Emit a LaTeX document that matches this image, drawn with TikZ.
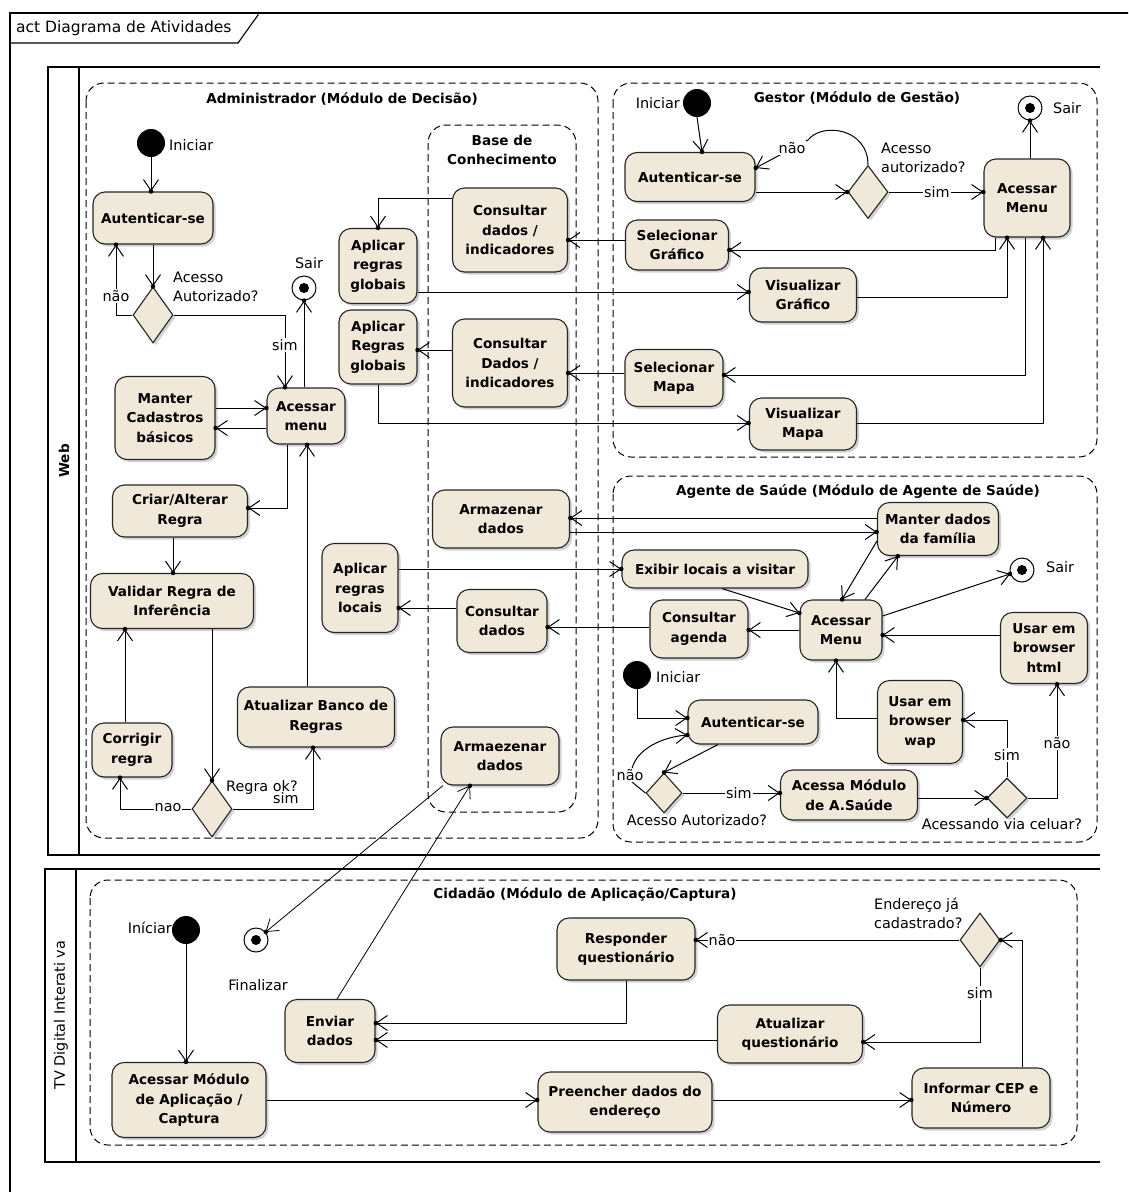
\documentclass[tikz,border=0pt]{standalone}
\usepackage{fontspec}
\setmainfont{DejaVu Sans}
\usetikzlibrary{arrows.meta,shapes.geometric,shadows,decorations.markings,calc}
\definecolor{nodefill}{HTML}{F0E8D8}
\newcommand{\actfnt}{\bfseries\fontsize{13.6}{19.5}\selectfont}
\newcommand{\lblfnt}{\fontsize{14.4}{19}\selectfont}
\newcommand{\titlefnt}{\fontsize{15.5}{19}\selectfont}
\begin{document}
\begin{tikzpicture}[x=1pt,y=-1pt,
  act/.style={draw=black!85, line width=1.1pt, rounded corners=12pt, fill=nodefill, align=center,
    font=\actfnt, inner sep=1pt, drop shadow={shadow xshift=2.5pt,shadow yshift=-2.5pt,opacity=0.35}},
  dec/.style={diamond, draw=black!85, line width=1.1pt, fill=nodefill, inner sep=0pt,
    drop shadow={shadow xshift=2.5pt,shadow yshift=-2.5pt,opacity=0.35}},
  initn/.style={circle, fill=black, minimum size=28pt, inner sep=0pt},
  finaln/.style={circle, draw, line width=1pt, fill=white, minimum size=24pt, inner sep=0pt,
    path picture={\fill[black] (path picture bounding box.center) circle (5pt);}},
  flow/.style={line width=1pt, -{Straight Barb[length=11pt,width=15pt]},
    postaction={decorate, decoration={markings, mark=at position 0.999 with {\fill[black] circle (2.3pt);}}}},
  lbl/.style={font=\lblfnt, inner sep=1pt},
  lblw/.style={lbl, fill=white},
  part/.style={draw, dash pattern=on 7pt off 4pt, line width=1pt, rounded corners=18pt},
  lane/.style={line width=1.5pt}
]
\useasboundingbox (0,0) rectangle (1128,1192);
\fill[white] (0,0) rectangle (1128,1192);
\clip (0,0) rectangle (1128,1192);

% frame
\draw[line width=1.3pt] (1140,13) -- (10,13) -- (10,1200);
\draw[line width=1.1pt] (10,43) -- (238,43) -- (258,15) -- (258,13);
\node[font=\titlefnt, anchor=west, inner sep=0pt] (title) at (16,28) {act Diagrama de Atividades};

% lanes
\draw[lane] (1100,67) -- (48,67) -- (48,855) -- (1100,855);
\draw[lane] (79,67) -- (79,855);
\node[font=\actfnt, rotate=90] (web) at (64,461) {Web};
\draw[lane] (1100,869) -- (45,869) -- (45,1162) -- (1100,1162);
\draw[lane] (76,869) -- (76,1162);
\node[font=\lblfnt, rotate=90] (tv) at (61,1015) {TV Digital Interati va};

% partitions
\draw[part] (86,83) rectangle (598,838);
\draw[part] (428,125) rectangle (576,812);
\draw[part] (613,83) rectangle (1097,457);
\draw[part] (613,476) rectangle (1097,842);
\draw[part] (90,880) rectangle (1077,1145);
\node[font=\actfnt] (tadm) at (342,99) {Administrador (Módulo de Decisão)};
\node[font=\actfnt, align=center] (tbase) at (502,150) {Base de\\Conhecimento};
\node[font=\actfnt] (tges) at (857,98) {Gestor (Módulo de Gestão)};
\node[font=\actfnt] (tage) at (858,492) {Agente de Saúde (Módulo de Agente de Saúde)};
\node[font=\actfnt] (tcid) at (585,894) {Cidadão (Módulo de Aplicação/Captura)};

% ---------- Administrador ----------
\node[initn] (i1) at (151,143) {};
\node[act, minimum width=120, minimum height=52] (a1) at (153,218) {Autenticar-se};
\node[dec, minimum width=40, minimum height=56] (d1) at (153,315) {};
\node[finaln] (s1) at (304,288) {};
\node[act, minimum width=78, minimum height=56] (m1) at (306,416) {Acessar\\menu};
\node[act, minimum width=100, minimum height=83] (mc) at (165,418) {Manter\\Cadastros\\básicos};
\node[act, minimum width=135, minimum height=52] (cr) at (180,511) {Criar/Alterar\\Regra};
\node[act, minimum width=163, minimum height=55] (vr) at (172,601) {Validar Regra de\\Inferência};
\node[dec, minimum width=40, minimum height=56] (d2) at (212,809) {};
\node[act, minimum width=80, minimum height=54] (co) at (132,750) {Corrigir\\regra};
\node[act, minimum width=157, minimum height=60] (ab) at (316,717) {Atualizar Banco de\\Regras};
\node[act, minimum width=78, minimum height=75] (g1) at (378,266) {Aplicar\\regras\\globais};
\node[act, minimum width=78, minimum height=74] (g2) at (378,347) {Aplicar\\Regras\\globais};
\node[act, minimum width=115, minimum height=84] (c1) at (510,230) {Consultar\\dados /\\indicadores};
\node[act, minimum width=115, minimum height=88] (c2) at (510,363) {Consultar\\Dados /\\indicadores};
\node[act, minimum width=137, minimum height=58] (ad) at (501,519) {Armazenar\\dados};
\node[act, minimum width=76, minimum height=89] (arl) at (360,588) {Aplicar\\regras\\locais};
\node[act, minimum width=90, minimum height=63] (cd) at (502,621) {Consultar\\dados};
\node[act, minimum width=118, minimum height=58] (az) at (500,756) {Armaezenar\\dados};

% ---------- Gestor ----------
\node[initn] (i2) at (697,103) {};
\node[act, minimum width=130, minimum height=49] (a2) at (690,177) {Autenticar-se};
\node[dec, minimum width=40, minimum height=53] (d3) at (868,192) {};
\node[act, minimum width=86, minimum height=78] (m2) at (1027,198) {Acessar\\Menu};
\node[finaln] (s2) at (1030,108) {};
\node[act, minimum width=103, minimum height=50] (sg) at (677,245) {Selecionar\\Gráfico};
\node[act, minimum width=107, minimum height=54] (vg) at (803,295) {Visualizar\\Gráfico};
\node[act, minimum width=98, minimum height=57] (sm) at (674,378) {Selecionar\\Mapa};
\node[act, minimum width=107, minimum height=52] (vm) at (803,424) {Visualizar\\Mapa};

% ---------- Agente ----------
\node[act, minimum width=121, minimum height=53] (mf) at (938,529) {Manter dados\\da família};
\node[act, minimum width=186, minimum height=38] (el) at (715,569) {Exibir locais a visitar};
\node[act, minimum width=98, minimum height=58] (ca) at (699,629) {Consultar\\agenda};
\node[act, minimum width=82, minimum height=60] (m3) at (841,630) {Acessar\\Menu};
\node[finaln] (s3) at (1022,570) {};
\node[act, minimum width=87, minimum height=71] (uh) at (1044,648) {Usar em\\browser\\html};
\node[initn] (i3) at (637,675) {};
\node[act, minimum width=130, minimum height=44] (a3) at (753,722) {Autenticar-se};
\node[act, minimum width=85, minimum height=83] (uw) at (920,722) {Usar em\\browser\\wap};
\node[dec, minimum width=36, minimum height=40] (d4) at (664,793) {};
\node[act, minimum width=137, minimum height=50] (am) at (849,795) {Acessa Módulo\\de A.Saúde};
\node[dec, minimum width=40, minimum height=40] (d5) at (1007,798) {};

% ---------- Cidadão ----------
\node[initn] (i4) at (186,930) {};
\node[finaln] (fin) at (256,940) {};
\node[act, minimum width=90, minimum height=63] (ed) at (330,1031) {Enviar\\dados};
\node[act, minimum width=138, minimum height=62] (rq) at (626,949) {Responder\\questionário};
\node[dec, minimum width=40, minimum height=54] (d6) at (980,940) {};
\node[act, minimum width=145, minimum height=58] (aq) at (790,1034) {Atualizar\\questionário};
\node[act, minimum width=154, minimum height=75] (ama) at (189,1100) {Acessar Módulo\\de Aplicação /\\Captura};
\node[act, minimum width=174, minimum height=60] (pd) at (625,1102) {Preencher dados do\\endereço};
\node[act, minimum width=138, minimum height=60] (ic) at (981,1098) {Informar CEP e\\Número};

% ---------- connectors: Administrador ----------
\draw[flow] (i1.south) -- (i1.south |- a1.north);
\draw[flow] (a1.south) -- (d1.north);
\draw[flow] (d1.west) -| (a1.south -| 116,0);
\draw[flow] (d1.east) -| (m1.north -| 285,0);
\draw[flow] (m1.north -| s1) -- (s1.south);
\draw[flow] (mc.east |- 0,408) -- (m1.west |- 0,408);
\draw[flow] (m1.west |- 0,428) -- (mc.east |- 0,428);
\draw[flow] (m1.south -| 287,0) |- (cr.east |- 0,508);
\draw[flow] (cr.south -| 173,0) -- (vr.north -| 173,0);
\draw[flow] (vr.south -| d2.north) -- (d2.north);
\draw[flow] (d2.west) -| (co.south -| 120,0);
\draw[flow] (co.north -| 125,0) -- (vr.south -| 125,0);
\draw[flow] (d2.east) -| (ab.south -| 313,0);
\draw[flow] (ab.north -| 307,0) -- (m1.south -| 307,0);
\draw[flow] (c1.west |- 0,198) -| (g1.north);
\draw[flow] (g1.east |- 0,292) -- (vg.west |- 0,292);
\draw[flow] (c2.west |- 0,350) -- (g2.east |- 0,350);
\draw[flow] (g2.south) |- (vm.west |- 0,423);
\draw[flow] (sg.west |- 0,240) -- (c1.east |- 0,240);
\draw[flow] (sm.west |- 0,373) -- (c2.east |- 0,373);

% ---------- connectors: Gestor ----------
\draw[flow] (i2.south) -- (a2.north -| 702,0);
\draw[flow] (a2.east |- 0,192) -- (d3.west);
\draw[flow] (d3.north) .. controls (868,128) and (822,122) .. (808,140) -- (a2.east |- 0,168);
\draw[flow] (d3.east) -- (m2.west |- d3.east);
\draw[flow] (m2.north -| s2) -- (s2.south);
\draw[flow] (m2.south -| 995,0) |- (sg.east |- 0,250);
\draw[flow] (vg.east |- 0,297) -| (m2.south -| 1007,0);
\draw[flow] (m2.south -| 1025,0) |- (sm.east |- 0,375);
\draw[flow] (vm.east |- 0,423) -| (m2.south -| 1043,0);

% ---------- connectors: Agente ----------
\draw[flow] (mf.west |- 0,518) -- (ad.east |- 0,518);
\draw[flow] (ad.east |- 0,532) -- (mf.west |- 0,532);
\draw[flow] (arl.east |- el.west) -- (el.west);
\draw[flow] (cd.west |- 0,608) -- (arl.east |- 0,608);
\draw[flow] (ca.west |- 0,627) -- (cd.east |- 0,627);
\draw[flow] (el.south -| 722,0) -- (m3.west |- 0,613);
\draw[flow] (m3.west) -- (ca.east |- m3.west);
\draw[flow] (m3.north -| 865,0) -- (mf.south -| 898,0);
\draw[flow] (mf.west |- 0,541) -- (m3.north -| 842,0);
\draw[flow] (m3.east |- 0,616) -- (s3);
\draw[flow] (uh.west |- 0,635) -- (m3.east |- 0,635);
\draw[flow] (i3.south) |- (a3.west |- 0,718);
\draw[flow] (a3.south -| 718,0) -- (d4.north);
\draw[flow] (d4.west) -- (632,782) .. controls (626,758) and (652,738) .. (a3.west |- 0,735);
\draw[flow] (d4.east) -- (am.west |- d4.east);
\draw[flow] (am.east |- d5.west) -- (d5.west);
\draw[flow] (d5.north) |- (uw.east |- 0,720);
\draw[flow] (d5.east) -| (uh.south -| 1057,0);
\draw[flow] (uw.west |- 0,718) -| (m3.south -| 836,0);

% ---------- connectors: Cidadão ----------
\draw[flow] (i4.south) -- (ama.north -| i4);
\draw[flow] (ama.east |- 0,1100) -- (pd.west |- 0,1100);
\draw[flow] (pd.east |- 0,1100) -- (ic.west |- 0,1100);
\draw[flow] (ic.north -| 1022,0) |- (d6.east);
\draw[flow] (d6.west) -- (rq.east |- d6.west);
\draw[flow] (d6.south) |- (aq.east |- 0,1042);
\draw[flow] (rq.south) |- (ed.east |- 0,1023);
\draw[flow] (aq.west |- 0,1040) -- (ed.east |- 0,1040);
\draw[flow, line width=0.8pt] (ed.north -| 337,0) -- (az.south -| 470,0);
\draw[flow, line width=0.8pt] (az.south -| 443,0) -- (fin);

% ---------- labels ----------
\node[lbl, anchor=west] (li1) at (168,145) {Iniciar};
\node[lbl, anchor=west, align=left] (lacc1) at (172,287) {Acesso\\Autorizado?};
\node[lblw] (lnao1) at (116,296) {não};
\node[lblw] (lsim1) at (285,345) {sim};
\node[lbl] (ls1) at (309,263) {Sair};
\node[lblw] (lnao2) at (168,808) {nao};
\node[lbl, anchor=west] (lregra) at (225,788) {Regra ok?};
\node[lbl, fill=white, inner sep=0.5pt] (lsim2) at (286,798) {sim};

\node[lbl, anchor=east] (li2) at (681,103) {Iniciar};
\node[lblw] (lnao3) at (792,148) {não};
\node[lbl, anchor=west, align=left] (lacc2) at (880,158) {Acesso\\autorizado?};
\node[lblw] (lsim3) at (937,192) {sim};
\node[lbl, anchor=west] (ls2) at (1052,108) {Sair};

\node[lbl, anchor=west] (ls3) at (1045,567) {Sair};
\node[lbl, anchor=west] (li3) at (655,677) {Iniciar};
\node[lblw] (lnao4) at (630,775) {não};
\node[lbl] (lacc3) at (697,820) {Acesso Autorizado?};
\node[lblw] (lsim4) at (739,793) {sim};
\node[lblw] (lsim5) at (1007,755) {sim};
\node[lblw] (lnao5) at (1057,743) {não};
\node[lbl] (lcel) at (1002,824) {Acessando via celuar?};

\node[lbl, anchor=east] (li4) at (173,928) {Iníciar};
\node[lbl] (lfin) at (258,985) {Finalizar};
\node[lbl, anchor=west, align=left] (lend) at (873,913) {Endereço já\\cadastrado?};
\node[lblw] (lnao6) at (722,940) {não};
\node[lblw] (lsim6) at (980,993) {sim};
\end{tikzpicture}
\end{document}
